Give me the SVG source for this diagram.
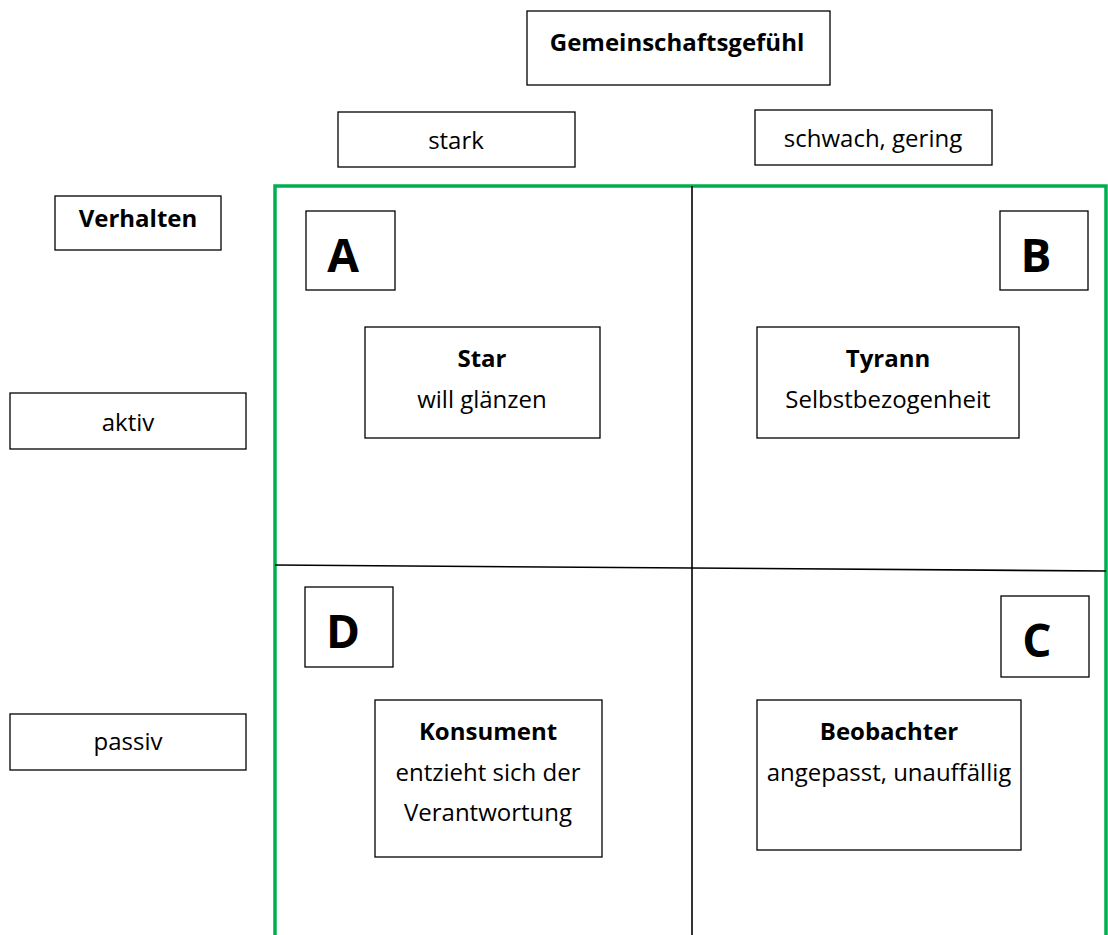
<svg xmlns="http://www.w3.org/2000/svg" width="1108" height="935" viewBox="0 0 1108 935">
<style>
.box{fill:#fff;stroke:#000;stroke-width:1.3}
text{font-family:"Open Sans",Lato,"Liberation Sans",sans-serif;font-size:24px;fill:#000;text-anchor:middle}
.b{font-weight:bold}
.big{font-size:46px;font-weight:bold}
</style>
<rect width="1108" height="935" fill="#fff"/>
<g id="connectors">
<path d="M275,935 V186 H1106 V935" fill="none" stroke="#00b050" stroke-width="3.5"/>
<line x1="692" y1="186" x2="692" y2="935" stroke="#000" stroke-width="1.6"/>
<line x1="275" y1="565" x2="1106" y2="571" stroke="#000" stroke-width="1.6"/>
</g>
<g id="gemeinschaftsgefuehl"><rect class="box" x="527" y="11" width="303" height="74"/><text class="b" x="677" y="51">Gemeinschaftsgefühl</text></g>
<g id="stark"><rect class="box" x="338" y="112" width="237" height="55"/><text x="456" y="149">stark</text></g>
<g id="schwach"><rect class="box" x="755" y="110" width="237" height="55"/><text x="873" y="147">schwach, gering</text></g>
<g id="verhalten"><rect class="box" x="55" y="196" width="166" height="54"/><text class="b" x="138" y="227">Verhalten</text></g>
<g id="aktiv"><rect class="box" x="10" y="393" width="236" height="56"/><text x="128" y="431">aktiv</text></g>
<g id="passiv"><rect class="box" x="10" y="714" width="236" height="56"/><text x="128" y="750">passiv</text></g>
<g id="A"><rect class="box" x="306" y="211" width="89" height="79"/><text class="big" x="343" y="272">A</text></g>
<g id="B"><rect class="box" x="1000" y="211" width="88" height="79"/><text class="big" x="1036" y="272">B</text></g>
<g id="D"><rect class="box" x="305" y="587" width="88" height="80"/><text class="big" x="343" y="648">D</text></g>
<g id="C"><rect class="box" x="1001" y="596" width="88" height="81"/><text class="big" x="1037" y="657">C</text></g>
<g id="star"><rect class="box" x="365" y="327" width="235" height="111"/><text class="b" x="482" y="367">Star</text><text x="482" y="408">will glänzen</text></g>
<g id="tyrann"><rect class="box" x="757" y="327" width="262" height="111"/><text class="b" x="888" y="367">Tyrann</text><text x="888" y="408">Selbstbezogenheit</text></g>
<g id="konsument"><rect class="box" x="375" y="700" width="227" height="157"/><text class="b" x="488" y="740">Konsument</text><text x="488" y="781">entzieht sich der</text><text x="488" y="821">Verantwortung</text></g>
<g id="beobachter"><rect class="box" x="757" y="700" width="264" height="150"/><text class="b" x="889" y="740">Beobachter</text><text x="889" y="781">angepasst, unauffällig</text></g>
</svg>
